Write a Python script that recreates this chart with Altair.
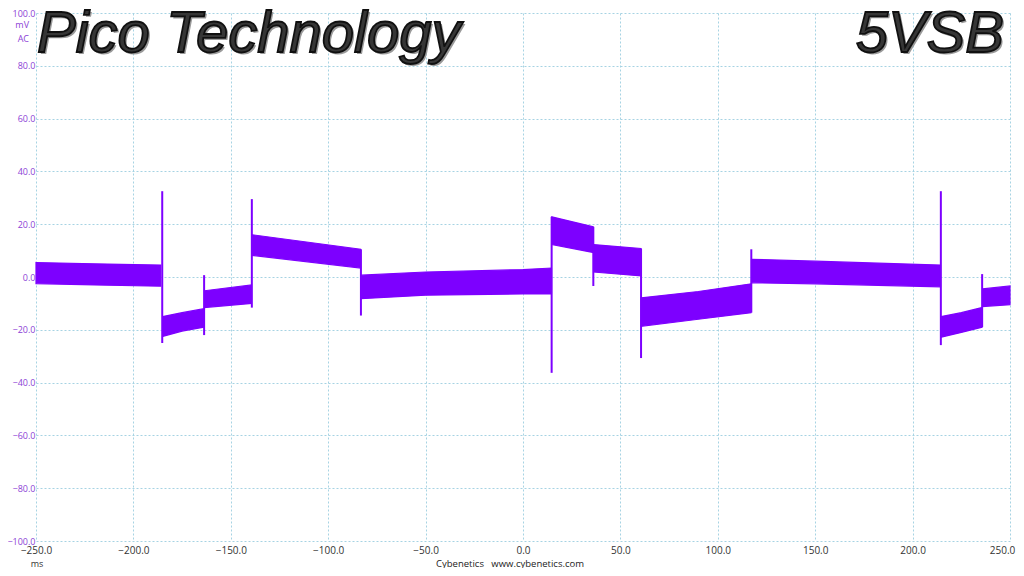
import altair as alt
import pandas as pd

PURPLE = "#7d00ff"
LABEL_PURPLE = "#8c3fd6"
GRID = "#a6d3e3"

# ---- data ----
x_ticks = [-250, -200, -150, -100, -50, 0, 50, 100, 150, 200, 250]
y_ticks = [-100, -80, -60, -40, -20, 0, 20, 40, 60, 80, 100]

band_seg = [1, 1, 1, 2, 2, 2, 3, 3, 4, 4, 5, 5, 5, 5, 6, 6, 7, 7, 8, 8, 8, 9, 9, 9, 10, 10, 10, 11, 11]
band_x = [-250, -220, -186, -185, -175, -164, -163.5, -139.4, -139, -83.4, -83, -50, 0, 14.6,
          14.8, 36, 36.2, 60.5, 60.7, 90, 117, 117.3, 150, 214.3, 214.6, 225, 235.6, 235.9, 250]
band_top = [5.5, 5, 4.5, -15, -13.5, -12, -5.2, -3, 16, 10.5, 0.7, 1.9, 2.8, 3.4,
            22.8, 19, 12.3, 10.8, -7.9, -5.5, -2.6, 6.7, 6, 4.5, -15, -13.5, -11.6, -4.5, -3.4]
band_bot = [-2.5, -3, -3.5, -22.5, -20.5, -19, -11.6, -10, 8.2, 3.4, -8.2, -6.9, -6.4, -6.4,
            12.3, 9.3, 1.9, 0.4, -18.7, -16, -13.5, -2.2, -2.6, -3.7, -22.8, -21, -19, -11.2, -10.5]

spike_x = [-185.2, -163.7, -139.2, -83.2, 14.7, 36.1, 60.6, 117.2, 214.5, 235.7]
spike_lo = [-25, -22, -11.6, -14.6, -36.3, -3.4, -30.7, -13.5, -25.8, -19]
spike_hi = [32.5, 0.7, 29.5, 10.5, 22.8, 19, 10.8, 10.5, 32.5, 1.1]

band = pd.DataFrame({"seg": band_seg, "x": band_x, "top": band_top, "bot": band_bot})
spikes = pd.DataFrame({"x": spike_x, "lo": spike_lo, "hi": spike_hi})

xscale = alt.Scale(domain=[-250, 250], nice=False, zero=False)
yscale = alt.Scale(domain=[-100, 100], nice=False, zero=False)

xaxis = alt.Axis(values=x_ticks, format=".1f", grid=True, gridColor=GRID, gridDash=[2, 2],
                 gridWidth=1, domain=False, ticks=False, labelFont="Open Sans", labelFontSize=10,
                 labelColor="#333333", labelPadding=4, labelFlush=False, title="",
                 labelOffset={"condition": {"test": "datum.value >= 250", "value": -8}, "value": 0})
yaxis = alt.Axis(values=y_ticks, format=".1f", grid=True, gridColor=GRID, gridDash=[2, 2],
                 gridWidth=1, domain=False, ticks=False, labelFont="Open Sans", labelFontSize=9,
                 labelColor=LABEL_PURPLE, labelPadding=1, labelFlush=False, title="")

area = alt.Chart(band).mark_area(color=PURPLE, stroke=PURPLE, strokeWidth=1.2, opacity=1).encode(
    x=alt.X("x:Q", scale=xscale, axis=xaxis),
    y=alt.Y("top:Q", scale=yscale, axis=yaxis),
    y2="bot:Q",
    detail="seg:N",
)

rules = alt.Chart(spikes).mark_rule(color=PURPLE, strokeWidth=2).encode(
    x=alt.X("x:Q", scale=xscale),
    y=alt.Y("lo:Q", scale=yscale),
    y2="hi:Q",
)


def txt(s, x, y, **kw):
    return alt.Chart(pd.DataFrame({"t": [s]})).mark_text(**kw).encode(
        text="t:N", x=alt.value(x), y=alt.value(y))


title_kw = dict(font="Liberation Sans", fontSize=58, fontStyle="italic", baseline="alphabetic")
layers = [
    area, rules,
    txt("Pico Technology", 3, 41, align="left", color="#9a9a9a", **title_kw),
    txt("Pico Technology", 1, 39, align="left", color="#363636", stroke="#101010", strokeWidth=1.8, **title_kw),
    txt("5VSB", 970, 41, align="right", color="#9a9a9a", **title_kw),
    txt("5VSB", 968, 39, align="right", color="#363636", stroke="#101010", strokeWidth=1.8, **title_kw),
    txt("mV", -7, 12, align="right", baseline="middle", font="Open Sans", fontSize=9, color=LABEL_PURPLE),
    txt("AC", -7, 26, align="right", baseline="middle", font="Open Sans", fontSize=9, color=LABEL_PURPLE),
    txt("ms", 1, 551, align="center", baseline="middle", font="Open Sans", fontSize=9, color="#333333"),
    txt("Cybenetics\u00a0\u00a0\u00a0www.cybenetics.com", 474, 551, align="center", baseline="middle",
        font="Open Sans", fontSize=9.5, color="#222222"),
]

chart = alt.layer(*layers).properties(
    width=974, height=528,
    padding={"left": 28, "top": 5, "right": 6, "bottom": 27},
    autosize=alt.AutoSizeParams(type="none"),
    background="white",
).configure_view(strokeWidth=0)

chart.save("out.html", embed_options={"renderer": "svg", "actions": False})
